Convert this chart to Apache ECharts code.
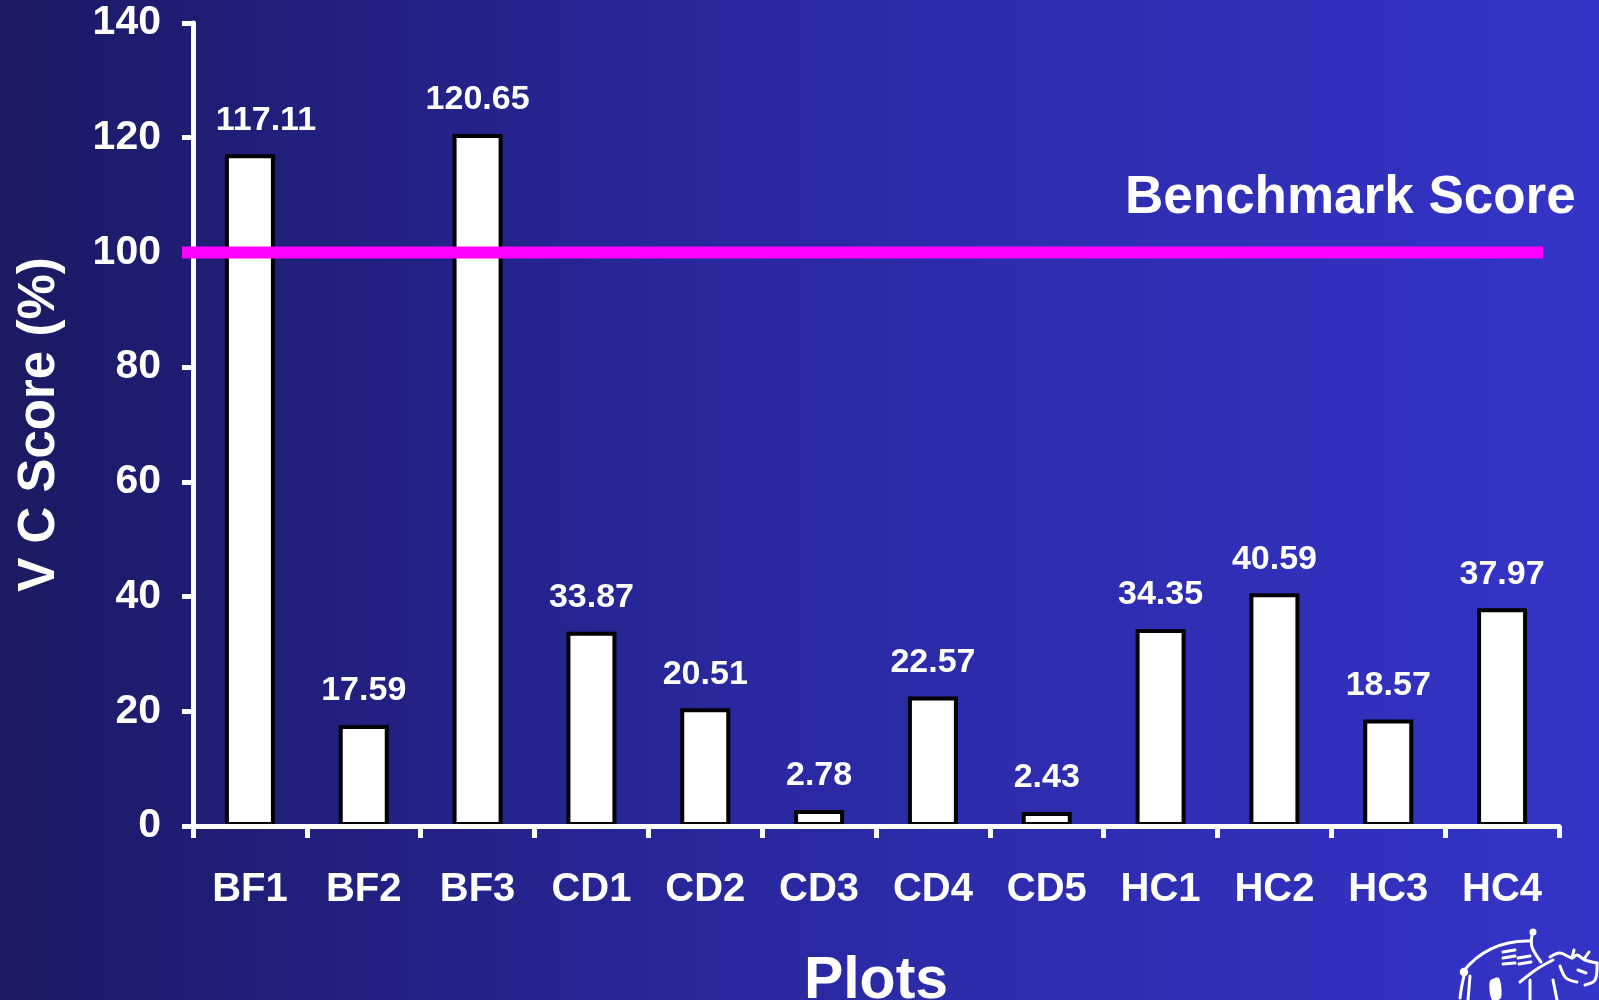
<!DOCTYPE html>
<html>
<head>
<meta charset="utf-8">
<title>V C Score by Plot</title>
<script src="https://cdn.jsdelivr.net/npm/echarts@6/dist/echarts.min.js"></script>
<style>
  html, body { margin: 0; padding: 0; width: 100%; height: 100%; overflow: hidden; }
  #chart { width: 1599px; height: 1000px; }
</style>
</head>
<body>
<div id="chart"></div>
<script>
// Plot names along the x axis
const plots = ['BF1', 'BF2', 'BF3', 'CD1', 'CD2', 'CD3', 'CD4', 'CD5', 'HC1', 'HC2', 'HC3', 'HC4'];
// V C score (%) for each plot
const vcScores = [117.11, 17.59, 120.65, 33.87, 20.51, 2.78, 22.57, 2.43, 34.35, 40.59, 18.57, 37.97];
// Reference level drawn as a horizontal line
const benchmarkScore = 100;
// Value axis range and step
const yMin = 0;
const yMax = 140;
const yStep = 20;

const FONT = '"Liberation Sans", Arial, "DejaVu Sans", sans-serif';
const WHITE = '#ffffff';

const chart = echarts.init(document.getElementById('chart'), null, { renderer: 'canvas' });

// First label sits a little to the right of its bar
const barData = vcScores.map((v, i) => (i === 0 ? { value: v, label: { offset: [16, 0] } } : v));

const option = {
  animation: false,
  backgroundColor: {
    type: 'linear', x: 0, y: 0, x2: 1, y2: 0,
    colorStops: [
      { offset: 0, color: '#1b1a60' },
      { offset: 0.05, color: '#1c1b6a' },
      { offset: 0.5, color: '#2a29a3' },
      { offset: 1, color: '#3434c8' }
    ]
  },
  grid: { left: 193, right: 40, top: 23, bottom: 174, containLabel: false, outerBoundsMode: 'none' },
  xAxis: {
    type: 'category',
    data: plots,
    z: 5,
    name: 'Plots',
    nameLocation: 'middle',
    nameGap: 126,
    nameTextStyle: { color: WHITE, fontFamily: FONT, fontWeight: 'bold', fontSize: 59 },
    axisLine: { show: true, lineStyle: { color: WHITE, width: 5 } },
    axisTick: { show: true, alignWithLabel: false, length: 12, lineStyle: { color: WHITE, width: 5 } },
    axisLabel: { color: WHITE, fontFamily: FONT, fontWeight: 'bold', fontSize: 40, margin: 44, interval: 0 },
    splitLine: { show: false }
  },
  yAxis: {
    type: 'value',
    min: yMin,
    max: yMax,
    interval: yStep,
    z: 5,
    name: 'V C Score (%)',
    nameLocation: 'middle',
    nameGap: 128,
    nameTextStyle: { color: WHITE, fontFamily: FONT, fontWeight: 'bold', fontSize: 51 },
    axisLine: { show: true, lineStyle: { color: WHITE, width: 5 } },
    axisTick: { show: true, inside: false, length: 11, lineStyle: { color: WHITE, width: 5 } },
    axisLabel: { color: WHITE, fontFamily: FONT, fontWeight: 'bold', fontSize: 41, margin: 32, padding: [4, 0, 0, 0] },
    splitLine: { show: false }
  },
  series: [{
    type: 'bar',
    name: 'V C Score',
    data: barData,
    barWidth: 50,
    itemStyle: { color: WHITE, borderColor: '#000000', borderWidth: 4 },
    label: {
      show: true,
      position: 'top',
      distance: 17,
      color: WHITE,
      fontFamily: FONT,
      fontWeight: 'bold',
      fontSize: 34,
      formatter: (p) => p.value.toFixed(2)
    }
  }]
};

chart.setOption(option);

// Benchmark line placed through the value axis scale
const benchY = chart.convertToPixel({ yAxisIndex: 0 }, benchmarkScore);

// Small rhino emblem in the lower-right corner (white line sketch)
const emblemStyle = { stroke: WHITE, lineWidth: 3, fill: null, lineCap: 'round', lineJoin: 'round' };
const emblemLines = [
  // stem of the perched bird and shoulder
  [[1532, 935], [1532, 947], [1541, 962]],
  // tail curl and hind leg
  [[1465, 972], [1462, 985], [1460, 998]],
  [[1470, 976], [1468, 1000]],
  // front leg / neck stroke
  [[1520, 982], [1537, 969], [1553, 960]],
  [[1530, 980], [1530, 1000]],
  [[1553, 980], [1557, 1000]],
  // head outline with ears and horn
  [[1550, 957], [1560, 953], [1572, 958], [1577, 955], [1585, 960], [1597, 963]],
  [[1572, 958], [1574, 950]],
  [[1584, 959], [1589, 952]],
  [[1597, 963], [1595, 980], [1585, 985]],
  [[1560, 966], [1566, 978], [1577, 982]],
  [[1578, 970], [1586, 973]],
  // hide stripes
  [[1503, 952], [1515, 950]],
  [[1503, 958], [1515, 956]],
  [[1503, 964], [1515, 963]],
  [[1518, 958], [1530, 956]],
  [[1519, 964], [1531, 962]]
];
const emblem = emblemLines.map((pts) => ({
  type: 'polyline',
  shape: { points: pts, smooth: pts.length > 2 ? 0.35 : 0 },
  style: emblemStyle,
  silent: true
}));
emblem.push({
  type: 'bezierCurve',
  shape: { x1: 1463, y1: 972, cpx1: 1478, cpy1: 952, cpx2: 1502, cpy2: 940, x2: 1530, y2: 941 },
  style: emblemStyle, silent: true
});
emblem.push({
  type: 'polygon',
  shape: { points: [[1490, 981], [1499, 978], [1501, 998], [1492, 1000]], smooth: 0.3 },
  style: { fill: WHITE }, silent: true
});
emblem.push({
  type: 'circle', shape: { cx: 1533, cy: 932, r: 3.5 },
  style: { fill: WHITE }, silent: true
});
emblem.push({
  type: 'circle', shape: { cx: 1464, cy: 972, r: 3 },
  style: { fill: null, stroke: WHITE, lineWidth: 2.5 }, silent: true
});

chart.setOption({
  graphic: [
    {
      type: 'line',
      z: 100,
      shape: { x1: 182, y1: benchY, x2: 1543, y2: benchY },
      style: { stroke: '#ff00ff', lineWidth: 12 },
      silent: true
    },
    {
      type: 'text',
      z: 100,
      x: 1125,
      y: benchY - 54,
      style: {
        text: 'Benchmark Score',
        fill: WHITE,
        font: 'bold 53px ' + FONT,
        verticalAlign: 'middle',
        align: 'left'
      },
      silent: true
    }
  ].concat(emblem)
});
</script>
</body>
</html>
